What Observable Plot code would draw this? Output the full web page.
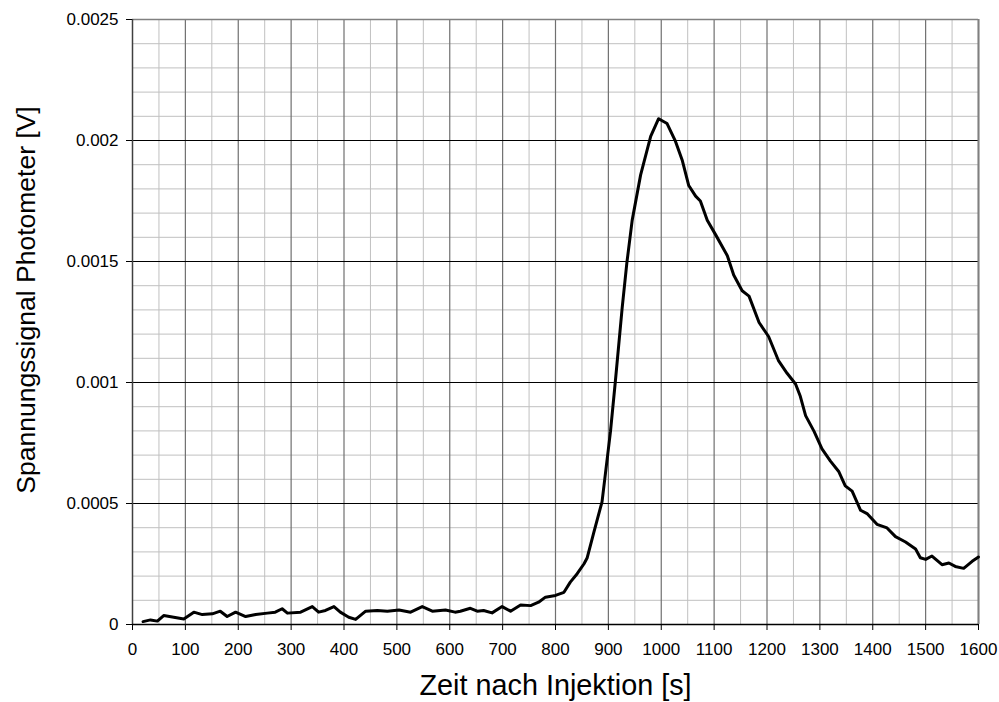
<!DOCTYPE html>
<html>
<head>
<meta charset="utf-8">
<script src="https://cdn.jsdelivr.net/npm/d3@7"></script>
<script src="https://cdn.jsdelivr.net/npm/@observablehq/plot@0.6"></script>
<style>
  html, body { margin: 0; padding: 0; background: #fff; }
  #chart svg { display: block; font-family: "Liberation Sans", Arial, sans-serif; }
</style>
</head>
<body>
<div id="chart"></div>
<script>
// Data
const time = [20,34,47,59,78,97,116,132,151,166,179,195,214,233,255,270,283,293,318,340,352,365,381,393,409,422,441,463,482,504,526,548,567,592,610,620,639,652,664,680,699,715,734,753,768,781,800,816,828,841,854,860,872,888,904,913,926,935,945,961,980,995,1011,1027,1040,1052,1065,1074,1087,1103,1125,1137,1153,1166,1185,1203,1222,1238,1254,1263,1273,1289,1304,1320,1336,1348,1361,1377,1390,1408,1427,1443,1462,1481,1490,1500,1512,1531,1544,1556,1572,1588,1600];
const signal = [0.000012,0.000019,0.000014,0.000037,0.00003,0.000023,0.000051,0.000041,0.000044,0.000055,0.000033,0.000051,0.000033,0.000041,0.000047,0.000051,0.000065,0.000047,0.000051,0.000074,0.000051,0.000058,0.000074,0.000051,0.00003,0.000021,0.000055,0.000058,0.000055,0.00006,0.000051,0.000074,0.000055,0.00006,0.000051,0.000055,0.000067,0.000055,0.000058,0.000048,0.000074,0.000055,0.000081,0.000078,0.000092,0.000113,0.00012,0.000133,0.000175,0.00021,0.000251,0.000276,0.000377,0.000507,0.000798,0.001,0.001306,0.001495,0.00167,0.001858,0.002017,0.00209,0.00207,0.001996,0.001916,0.001814,0.00177,0.00175,0.00167,0.00161,0.001524,0.001444,0.001379,0.001357,0.001248,0.00119,0.001089,0.001038,0.000994,0.000943,0.000863,0.000798,0.000726,0.000675,0.000631,0.000573,0.000551,0.000472,0.000457,0.000414,0.000399,0.000363,0.000341,0.000312,0.000276,0.000269,0.000283,0.000247,0.000254,0.00024,0.000232,0.000261,0.000279];

const xTicks = [0,100,200,300,400,500,600,700,800,900,1000,1100,1200,1300,1400,1500,1600];
const yTicks = [0,0.0005,0.001,0.0015,0.002,0.0025];
const xMinor = d3.range(50, 1600, 100);
const yMinor = d3.range(1, 25).filter(i => i % 5 !== 0).map(i => i / 10000);
const xTitle = "Zeit nach Injektion [s]";
const yTitle = "Spannungssignal Photometer [V]";

const data = time.map((t, i) => ({t, v: signal[i]}));

const chart = Plot.plot({
  width: 999,
  height: 702,
  marginLeft: 132,
  marginRight: 21,
  marginTop: 19,
  marginBottom: 78,
  style: {fontFamily: "'Liberation Sans', Arial, sans-serif", background: "#fff", color: "#000"},
  x: {domain: [0, 1600]},
  y: {domain: [0, 0.0025]},
  marks: [
    Plot.ruleX(xMinor, {stroke: "#c0c0c0", strokeWidth: 1}),
    Plot.ruleY(yMinor, {stroke: "#c0c0c0", strokeWidth: 1}),
    Plot.ruleX(xTicks.slice(1), {stroke: "#707070", strokeWidth: 1.2}),
    Plot.ruleY(yTicks.slice(1), {stroke: "#000", strokeWidth: 1}),
    Plot.ruleY([0.0025], {stroke: "#808080", strokeWidth: 1.5}),
    Plot.ruleX([1600], {stroke: "#808080", strokeWidth: 2}),
    Plot.line(data, {x: "t", y: "v", stroke: "#000", strokeWidth: 3, strokeLinejoin: "round"}),
    Plot.ruleX([0], {stroke: "#404040", strokeWidth: 1.5}),
    Plot.ruleY([0], {stroke: "#000", strokeWidth: 1.5}),
    Plot.axisX({ticks: xTicks, tickFormat: d => String(d), tickSize: 6, tickPadding: 12, fontSize: 17, label: null, stroke: "#000"}),
    Plot.axisY({ticks: yTicks, tickFormat: d => String(d), tickSize: 6, tickPadding: 8, fontSize: 17, label: null, stroke: "#000"}),
    Plot.text([xTitle], {text: d => d, frameAnchor: "bottom", dy: 61, fontSize: 28.8, textAnchor: "middle", lineAnchor: "middle", fill: "#000"}),
    Plot.text([yTitle], {text: d => d, frameAnchor: "left", dx: -106, dy: -22, rotate: -90, fontSize: 26.5, textAnchor: "middle", lineAnchor: "middle", fill: "#000"})
  ]
});
document.getElementById("chart").appendChild(chart);
</script>
</body>
</html>
